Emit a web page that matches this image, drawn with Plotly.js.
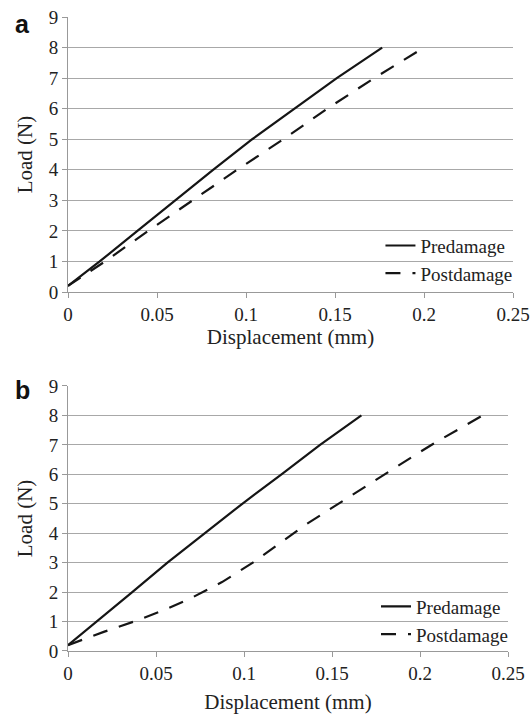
<!DOCTYPE html>
<html><head><meta charset="utf-8">
<script src="https://cdn.plot.ly/plotly-3.0.1.min.js"></script>
<style>
html,body{margin:0;padding:0;background:#fff}
#c{width:531px;height:714px}
text{font-family:'Liberation Serif' !important}
text.annotation-text{font-family:'Liberation Sans' !important}
</style>
</head><body><div id="c"></div>
<script>
// Panel a
const aPreX = [0, 0.0178, 0.039, 0.060, 0.0815, 0.1035, 0.127, 0.151, 0.1765];
const aPreY = [0.2, 1, 2, 3, 4, 5, 6, 7, 8];
const aPostX = [0, 0.0208, 0.045, 0.070, 0.095, 0.121, 0.1456, 0.172, 0.200];
const aPostY = [0.2, 1, 2, 3, 4, 5, 6, 7, 8];
// Panel b
const bPreX = [0, 0.0165, 0.0365, 0.0565, 0.0775, 0.099, 0.1213, 0.1432, 0.1667];
const bPreY = [0.2, 1, 2, 3, 4, 5, 6, 7, 8];
const bPostX = [0, 0.0203, 0.0375, 0.055, 0.070, 0.0875, 0.105, 0.134, 0.1497, 0.1648, 0.181, 0.1947, 0.2076, 0.221, 0.2355];
const bPostY = [0.2, 0.65, 1, 1.4, 1.8, 2.34, 3, 4.25, 4.85, 5.43, 6.03, 6.56, 7.04, 7.49, 8];

const xTicks = [0, 0.05, 0.1, 0.15, 0.2, 0.25];
const xTickText = ['0', '0.05', '0.1', '0.15', '0.2', '0.25'];
const yTicks = [0, 1, 2, 3, 4, 5, 6, 7, 8, 9];
const names = ['Predamage', 'Postdamage'];
const panelLabels = ['a', 'b'];

const fontSerif = 'Liberation Serif';
const fontSans = 'Liberation Sans';
const solid = {color: '#151515', width: 2.2};
const dashed = {color: '#151515', width: 2.2, dash: '15px,12px'};

const traces = [
  {x: aPreX, y: aPreY, name: names[0], mode: 'lines', line: solid, xaxis: 'x', yaxis: 'y', legend: 'legend'},
  {x: aPostX, y: aPostY, name: names[1], mode: 'lines', line: dashed, xaxis: 'x', yaxis: 'y', legend: 'legend'},
  {x: bPreX, y: bPreY, name: names[0], mode: 'lines', line: solid, xaxis: 'x2', yaxis: 'y2', legend: 'legend2'},
  {x: bPostX, y: bPostY, name: names[1], mode: 'lines', line: dashed, xaxis: 'x2', yaxis: 'y2', legend: 'legend2'}
];

function xa(domain, anchor, standoff) {
  return {domain: domain, anchor: anchor, range: [0, 0.25], tickvals: xTicks, ticktext: xTickText,
    showgrid: false, zeroline: false, showline: true, linecolor: '#999', linewidth: 1,
    ticks: 'outside', ticklen: 5, tickcolor: '#999',
    tickfont: {family: fontSerif, size: 19},
    title: {text: 'Displacement (mm)', font: {family: fontSerif, size: 21}, standoff: standoff}};
}
function ya(domain, anchor) {
  return {domain: domain, anchor: anchor, range: [0, 9], tickvals: yTicks,
    showgrid: true, gridcolor: '#a8a8a8', gridwidth: 1, zeroline: false,
    showline: true, linecolor: '#999', linewidth: 1, ticks: 'outside', ticklen: 5, tickcolor: '#999',
    tickfont: {family: fontSerif, size: 19},
    title: {text: 'Load (N)', font: {family: fontSerif, size: 21}, standoff: 10}};
}
const legendBase = {xanchor: 'right', yanchor: 'bottom', bgcolor: 'rgba(0,0,0,0)',
  font: {family: fontSerif, size: 19}, tracegroupgap: 0, itemwidth: 30};

const layout = {
  width: 531, height: 714, paper_bgcolor: '#fff', plot_bgcolor: '#fff',
  font: {family: fontSerif, size: 19, color: '#222'},
  margin: {l: 68, r: 18, t: 17, b: 63},
  xaxis: xa([0, 1], 'y', 5),
  yaxis: ya([0.5662, 1], 'x'),
  xaxis2: xa([0, 0.9888], 'y2', 12),
  yaxis2: ya([0, 0.418], 'x2'),
  legend: Object.assign({}, legendBase, {x: 1.01, y: 0.5662 - 0.001}),
  legend2: Object.assign({}, legendBase, {x: 1.0, y: -0.004}),
  annotations: [
    {text: '<b>' + panelLabels[0] + '</b>', xref: 'paper', yref: 'paper', x: -0.123, y: 0.9885, xanchor: 'left', yanchor: 'middle', showarrow: false, font: {family: fontSans, size: 25, color: '#111'}},
    {text: '<b>' + panelLabels[1] + '</b>', xref: 'paper', yref: 'paper', x: -0.123, y: 0.412, xanchor: 'left', yanchor: 'middle', showarrow: false, font: {family: fontSans, size: 25, color: '#111'}}
  ]
};
Plotly.newPlot('c', traces, layout, {staticPlot: true});
</script></body></html>
